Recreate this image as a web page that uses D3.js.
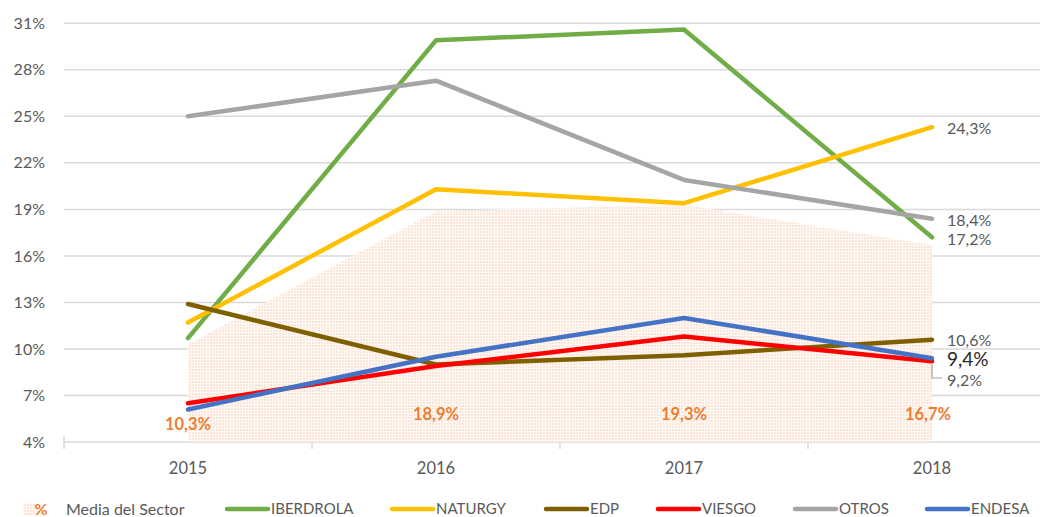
<!DOCTYPE html>
<html><head><meta charset="utf-8">
<script src="https://cdn.jsdelivr.net/npm/d3@7"></script>
<style>body{margin:0;background:#fff}svg{display:block}text{font-family:Lato,"Open Sans",sans-serif}</style>
</head><body><svg id="c" width="1040" height="517"></svg>
<script>
const years = ["2015","2016","2017","2018"];
const media = [10.3, 18.9, 19.3, 16.7];
const seriesNames = ["IBERDROLA","NATURGY","EDP","VIESGO","OTROS","ENDESA"];
const seriesColors = ["#70AD47","#FFC000","#7F6000","#FF0000","#A5A5A5","#4472C4"];
const iberdrola = [10.7, 29.9, 30.6, 17.2];
const naturgy = [11.7, 20.3, 19.4, 24.3];
const edp = [12.9, 9.0, 9.6, 10.6];
const viesgo = [6.5, 8.9, 10.8, 9.2];
const otros = [25.0, 27.3, 20.9, 18.4];
const endesa = [6.1, 9.5, 12.0, 9.4];
const yTicks = [4,7,10,13,16,19,22,25,28,31];

const seriesValues = [iberdrola, naturgy, edp, viesgo, otros, endesa];
const fmt = v => v.toFixed(1).replace(".", ",") + "%";

const svg = d3.select("#c");
const defs = svg.append("defs");
const pat = defs.append("pattern").attr("id","dots").attr("width",3).attr("height",3).attr("patternUnits","userSpaceOnUse");
pat.append("rect").attr("width",3).attr("height",3).attr("fill","#FFF9F6");
pat.append("rect").attr("width",2).attr("height",2).attr("fill","#FCE6DA");

const x = d3.scaleBand().domain(years).range([64, 1056]);
const cx = d => x(d) + x.bandwidth()/2;
const y = d3.scaleLinear().domain([4, 31]).range([442, 23.3]);

// gridlines
svg.append("g").selectAll("line").data(yTicks).join("line")
  .attr("x1", 64).attr("x2", 1056).attr("y1", d=>y(d)).attr("y2", d=>y(d))
  .attr("stroke", "#D9D9D9").attr("stroke-width", 1.5);

// y tick labels
svg.append("g").selectAll("text").data(yTicks).join("text")
  .attr("x", 45).attr("y", d=>y(d)).attr("dy","0.35em").attr("text-anchor","end")
  .attr("font-size", 16).attr("fill","#595959").text(d=>d+"%");

// x axis ticks
const bounds = [x("2015"), x("2016"), x("2017"), x("2018")];
svg.append("g").selectAll("line").data(bounds).join("line")
  .attr("x1", d=>d).attr("x2", d=>d).attr("y1", (d,i)=> i===0 ? 436 : 442).attr("y2", 449)
  .attr("stroke","#D9D9D9").attr("stroke-width",1.5);
svg.append("g").selectAll("text").data(years).join("text")
  .attr("x", d=>cx(d)).attr("y", 468).attr("dy","0.35em").attr("text-anchor","middle")
  .attr("font-size", 16.5).attr("fill","#595959").text(d=>d);

// area
const area = d3.area().x((d,i)=>cx(years[i])).y0(y(4)).y1(d=>y(d));
svg.append("path").datum(media).attr("d", area).attr("fill","url(#dots)");

// lines
const line = d3.line().x((d,i)=>cx(years[i])).y(d=>y(d));
seriesValues.forEach((vals, k) => {
  svg.append("path").datum(vals).attr("d", line).attr("fill","none")
    .attr("stroke", seriesColors[k]).attr("stroke-width", 4.5)
    .attr("stroke-linecap","round").attr("stroke-linejoin","round");
});

// media labels
const mediaLabelY = [424, 414, 414, 414];
svg.append("g").selectAll("text").data(media).join("text")
  .attr("x", (d,i)=>cx(years[i]) - (i===3?4:0)).attr("y", (d,i)=>mediaLabelY[i]).attr("dy","0.35em")
  .attr("text-anchor","middle").attr("font-size",16.5).attr("font-weight","bold")
  .attr("fill","#ED7D31").text(d=>fmt(d));

// end labels
const lx = cx("2018") + 15;
const endLabels = [
  {v: naturgy[3], y: 128, size: 16, color:"#595959"},
  {v: otros[3], y: 220, size: 16, color:"#595959"},
  {v: iberdrola[3], y: 239, size: 16, color:"#595959"},
  {v: edp[3], y: 340, size: 16, color:"#595959"},
  {v: endesa[3], y: 359, size: 19, color:"#262626"},
  {v: viesgo[3], y: 380, size: 16, color:"#595959"}
];
svg.append("g").selectAll("text").data(endLabels).join("text")
  .attr("x", lx).attr("y", d=>d.y).attr("dy","0.35em")
  .attr("font-size", d=>d.size).attr("fill", d=>d.color).text(d=>fmt(d.v));
// leader line for VIESGO
svg.append("path").attr("d", `M${cx("2018")},${y(viesgo[3])+3} V378 H${lx-5}`)
  .attr("fill","none").attr("stroke","#A6A6A6").attr("stroke-width",1.2);

// legend
const ly = 509;
const lg = svg.append("g");
lg.append("rect").attr("x",23).attr("y",ly-6).attr("width",15).attr("height",12).attr("fill","url(#dots)");
lg.append("text").attr("x",41).attr("y",ly).attr("dy","0.35em").attr("text-anchor","middle")
  .attr("font-size",16).attr("font-weight","bold").attr("fill","#ED7D31").text("%");
lg.append("text").attr("x",66).attr("y",ly).attr("dy","0.35em").attr("font-size",16).attr("fill","#595959").text("Media del Sector");
const legX = [227, 392, 546, 658, 795, 927];
seriesNames.forEach((n,k)=>{
  lg.append("line").attr("x1",legX[k]).attr("x2",legX[k]+41).attr("y1",ly).attr("y2",ly)
    .attr("stroke",seriesColors[k]).attr("stroke-width",4.5).attr("stroke-linecap","round");
  lg.append("text").attr("x",legX[k]+44).attr("y",ly).attr("dy","0.35em").attr("font-size",15)
    .attr("fill","#595959").text(n);
});
</script></body></html>
